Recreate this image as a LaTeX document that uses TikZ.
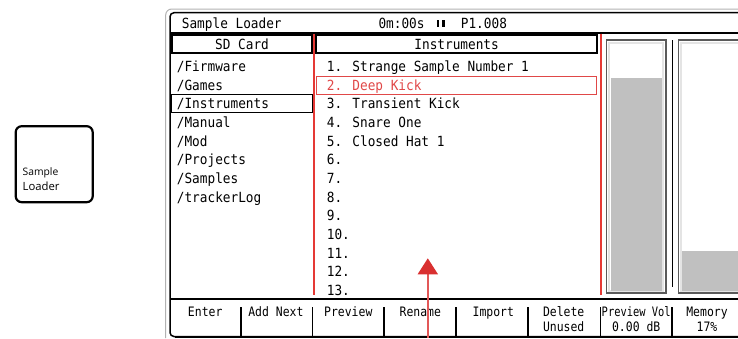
\documentclass[tikz,border=0pt]{standalone}
\usepackage{fontspec}
\usetikzlibrary{arrows.meta}
\newfontfamily\scrmono[FakeStretch=0.91]{DejaVu Sans Mono}
\newfontfamily\btnmono[FakeStretch=0.88]{DejaVu Sans Mono}
\newfontfamily\lblfont{Open Sans}
\definecolor{scrred}{HTML}{E53935}
\definecolor{txtred}{HTML}{E04848}
\definecolor{arrowred}{HTML}{D93030}
\definecolor{shaftred}{HTML}{E25858}
\definecolor{meterfill}{HTML}{C0C0C0}
\definecolor{meteredge}{HTML}{5A5A5A}
\definecolor{meterin}{HTML}{E4E4E4}
\tikzset{
  listtxt/.style={anchor=base west, inner sep=0, font=\fontsize{14}{14}\scrmono},
  btntxt/.style={anchor=base, inner sep=0, font=\fontsize{13}{13}\btnmono},
  header/.style={draw, line width=1.8, inner sep=0, minimum height=17.7,
     text height=14.3, text depth=3.4, font=\fontsize{14}{14}\scrmono},
  sep/.style={line width=1.4},
  redline/.style={scrred, line width=1.8},
  meterbox/.style={draw=meteredge, line width=1.1},
  meterinner/.style={draw=meterin, line width=2},
}
\begin{document}
\begin{tikzpicture}[x=1pt,y=-1pt]
\useasboundingbox (0,0) rectangle (738,338);

% left component box
\node[draw, line width=2.2, rounded corners=6, minimum width=77, minimum height=76, inner sep=0] (slbox) at (54.2,164.2) {};
\node[anchor=base west, inner sep=0, font=\fontsize{10.3}{10.3}\lblfont] (sllab1) at (22.5,175.7) {Sample};
\node[anchor=base west, inner sep=0, font=\fontsize{11.3}{11.3}\lblfont] (sllab2) at (22.5,190) {Loader};

% screen frame
\draw[gray!60, line width=1, rounded corners=6] (165.7,338) -- (165.7,9) -- (738,9);
\draw[line width=1.5, rounded corners=4] (738,12.7) -- (170,12.7) -- (170,336.5) -- (738,336.5);
\draw[line width=2.5] (175,336.8) -- (738,336.8);

% title bar
\node[listtxt] (title) at (181.7,28) {Sample Loader};
\node[listtxt] (time) at (378.3,28) {0m:00s};
\fill (436.5,20) rectangle (439.2,27.2);
\fill (442.3,20) rectangle (445,27.2);
\node[listtxt] (pos) at (460.7,28) {P1.008};
\draw[line width=2.2] (170,32.6) -- (738,32.6);

% red dividers
\draw[redline] (313.8,33.5) -- (313.8,295);
\draw[redline] (600.7,33.5) -- (600.7,295);

% headers
\node[header, minimum width=140.6] (sdhead) at (242,43.85) {SD Card};
\node[header, minimum width=281.3] (insthead) at (456.65,43.85) {Instruments};

% SD card list
\foreach \t [count=\i from 0] in {/Firmware,/Games,/Instruments,/Manual,/Mod,/Projects,/Samples,/trackerLog}
  \node[listtxt] (sd\i) at (176.7,71.5+\i*18.65) {\t};
\draw[line width=1.3] (171.7,94.6) rectangle (312.3,112.6);

% instrument list
\node[listtxt] (in1) at (326.7,71.5) {1. Strange Sample Number 1};
\node[listtxt, text=txtred] (in2) at (326.7,90.15) {2. Deep Kick};
\node[listtxt] (in3) at (326.7,108.8) {3. Transient Kick};
\node[listtxt] (in4) at (326.7,127.45) {4. Snare One};
\node[listtxt] (in5) at (326.7,146.1) {5. Closed Hat 1};
\foreach \n in {6,...,13}
  \node[listtxt] (in\n) at (326.7,71.5+\n*18.65-18.65) {\n.};
\draw[txtred, line width=1.1] (316.7,76.6) rectangle (596.7,94.4);

% meters
\draw[meterbox] (606.7,40) rectangle (666,293);
\draw[meterinner] (609.4,42.6) rectangle (663.3,290.6);
\fill[meterfill] (610.5,78.2) rectangle (662.4,291.2);
\draw[line width=1.6] (672.3,40) -- (672.3,286.5);
\draw[meterbox] (678.3,40) rectangle (750,293);
\draw[meterinner] (681,42.6) rectangle (752,290.6);
\fill[meterfill] (682.1,250.7) rectangle (752,291.2);

% bottom bar
\draw[line width=1.4] (170,299) -- (738,299);
\foreach \x in {240.8,312.3,384.1,455.9,528,600.7,672}
  \draw[sep] (\x,307) -- (\x,336);
\node[btntxt] (bEnter) at (205.2,316.7) {Enter};
\node[btntxt] (bAdd) at (275.9,316.7) {Add Next};
\node[btntxt] (bPrev) at (348.3,316.7) {Preview};
\node[btntxt] (bRen) at (420.3,316.7) {Rename};
\node[btntxt] (bImp) at (493.3,316.7) {Import};
\node[btntxt] (bDel) at (563.7,316.7) {Delete};
\node[btntxt] (bDel2) at (563.7,331.7) {Unused};
\node[btntxt] (bVol) at (636.2,316.7) {\scalebox{0.91}[1]{Preview Vol}};
\node[btntxt] (bVol2) at (636.2,331.7) {0.00 dB};
\node[btntxt] (bMem) at (707,316.7) {Memory};
\node[btntxt] (bMem2) at (707,331.7) {17\%};

% red arrow
\coordinate (arrfrom) at (427.8,338);
\coordinate (arrto) at (427.8,258.3);
\draw[shaftred, line width=1.8, -{Triangle[width=20pt,length=16pt,color=arrowred]}] (arrfrom) -- (arrto);
\end{tikzpicture}
\end{document}
